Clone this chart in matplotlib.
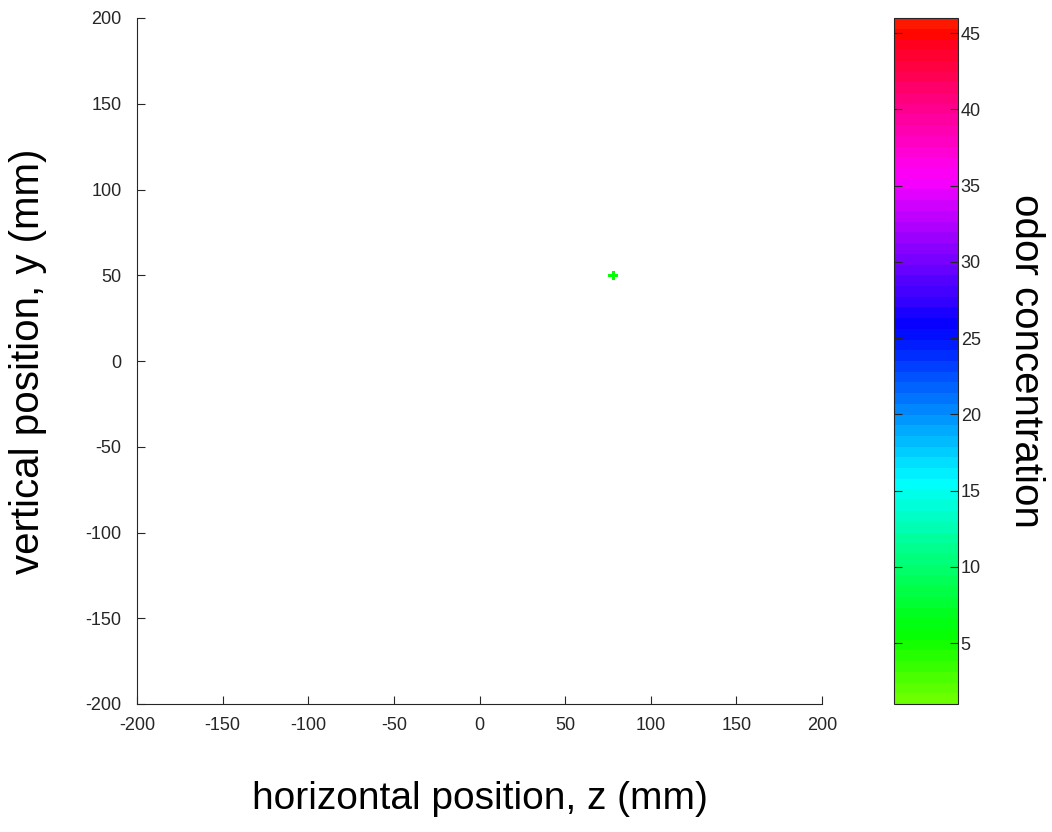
import matplotlib
matplotlib.use("Agg")
import matplotlib.pyplot as plt
from matplotlib.colors import ListedColormap
import numpy as np

plt.rcParams['font.family'] = ['Liberation Sans', 'DejaVu Sans']
plt.rcParams['axes.unicode_minus'] = False

# odor samples (z, y, concentration)
z_pos = [78]
y_pos = [50]
conc = [5.5]

c_min, c_max = 1, 46
ticks = [-200, -150, -100, -50, 0, 50, 100, 150, 200]
cbar_ticks = [5, 10, 15, 20, 25, 30, 35, 40, 45]

# hsv slice: green at the bottom up to red at the top
hues = np.linspace(0.5 + (c_min - 15) / 60, 0.5 + (c_max - 15) / 60, 64) % 1.0
cmap = ListedColormap(plt.get_cmap('hsv')(hues))

fig = plt.figure(figsize=(10.52, 8.32), dpi=100)
ax = fig.add_axes([137/1052, 1 - 704/832, (822-137)/1052, (704-18)/832])
cax = fig.add_axes([894/1052, 1 - 704/832, (958-894)/1052, (704-18)/832])

sc = ax.scatter(z_pos, y_pos, c=conc, cmap=cmap, vmin=c_min, vmax=c_max,
                marker='P', s=45, edgecolors='none')
ax.set_xlim(-200, 200)
ax.set_ylim(-200, 200)
ax.set_xticks(ticks)
ax.set_yticks(ticks)
ax.spines['top'].set_visible(False)
ax.spines['right'].set_visible(False)
for s in ['left', 'bottom']:
    ax.spines[s].set_color('#262626')
ax.tick_params(direction='in', length=6, labelsize=13, colors='#262626')
ax.tick_params(axis='x', pad=9)
ax.tick_params(axis='y', pad=11)
ax.set_xlabel('horizontal position, z (mm)', fontsize=28, labelpad=34)
ax.set_ylabel('vertical position, y (mm)', fontsize=29, labelpad=28)

cb = fig.colorbar(sc, cax=cax, ticks=cbar_ticks)
cb.outline.set_edgecolor('#262626')
cax.tick_params(direction='in', length=6, labelsize=13, colors='#262626',
                left=True, right=True, pad=2)
cb.set_label('odor concentration', fontsize=29, rotation=-90, labelpad=46)

fig.savefig('out.png', dpi=100)
